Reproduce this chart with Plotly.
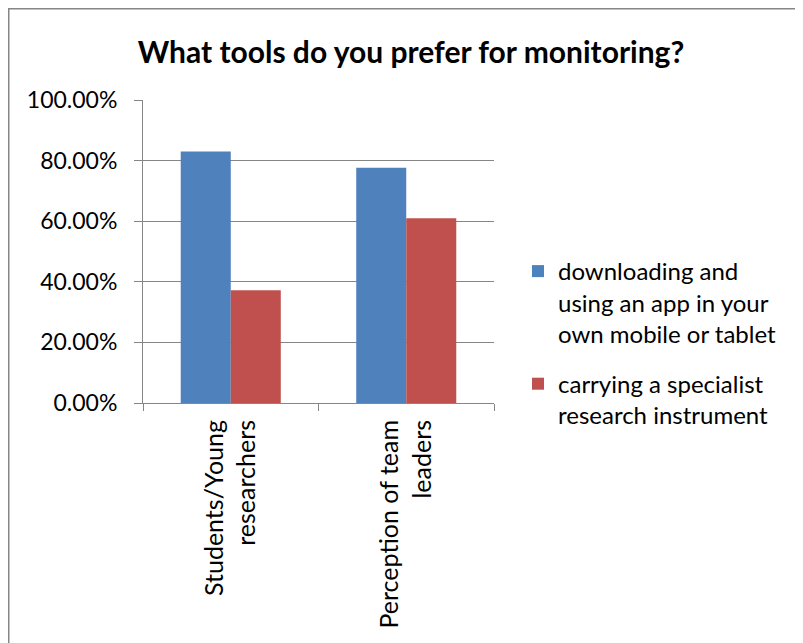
import plotly.graph_objects as go

categories = ["Students/Young<br>researchers", "Perception of team<br>leaders"]
series_names = ["downloading and<br>using an app in your<br>own mobile or tablet",
                "carrying a specialist<br>research instrument"]
app_values = [0.830, 0.776]
instrument_values = [0.372, 0.610]
colors = ["#4F81BD", "#C0504D"]
y_ticks = [0, 0.2, 0.4, 0.6, 0.8, 1.0]

FONT = "Lato"
GRID = "#868686"
OFF = 8  # page body margin

W, H = 803, 643
L, T = 143 - OFF, 100 - OFF
pw, ph = 351, 303
R, B = W - L - pw, H - T - ph


def px(xp):
    return (xp - OFF - L) / pw


def py(yp):
    return (T + ph - (yp - OFF)) / ph


fig = go.Figure()
fig.add_trace(go.Bar(x=categories, y=app_values, name=series_names[0],
                     marker=dict(color=colors[0], line=dict(width=0)),
                     legendgroup="a"))
fig.add_trace(go.Bar(x=categories, y=instrument_values, name=series_names[1],
                     marker=dict(color=colors[1], line=dict(width=0)),
                     legendgroup="b"))

fig.update_layout(
    width=W, height=H,
    margin=dict(l=L, r=R, t=T, b=B, autoexpand=False),
    paper_bgcolor="white", plot_bgcolor="white",
    font=dict(family=FONT, size=24, color="black"),
    barmode="group", bargap=0.43, bargroupgap=0,
    title=dict(text="<b>What tools do you prefer for monitoring?</b>",
               font=dict(family=FONT, size=30, color="black"),
               x=px(411), xref="paper", xanchor="center",
               y=1 - (52 - OFF) / H, yref="container", yanchor="middle"),
    legend=dict(x=px(518), xanchor="left", y=py(249), yanchor="top",
                font=dict(family=FONT, size=24, color="black"),
                tracegroupgap=16, valign="top",
                bgcolor="rgba(0,0,0,0)"),
    xaxis=dict(showline=True, linecolor=GRID, linewidth=1,
               ticks="outside", tickson="boundaries", ticklen=7, tickcolor=GRID,
               tickangle=-90, showgrid=False, ticklabelstandoff=6,
               tickfont=dict(family=FONT, size=25)),
    yaxis=dict(range=[0, 1], tickvals=y_ticks, tickformat=".2%",
               showline=True, linecolor=GRID, linewidth=1,
               ticks="outside", ticklen=8, tickcolor=GRID,
               showgrid=True, gridcolor=GRID, gridwidth=1, zeroline=False,
               ticklabelstandoff=12, tickfont=dict(family=FONT, size=23)),
    shapes=[dict(type="rect", xref="paper", yref="paper",
                 x0=px(OFF + 0.75), x1=px(W + 40),
                 y0=py(H + 40), y1=py(OFF + 0.75),
                 line=dict(color=GRID, width=1.5), fillcolor="rgba(0,0,0,0)",
                 layer="below")],
)

fig.write_html("out.html")
